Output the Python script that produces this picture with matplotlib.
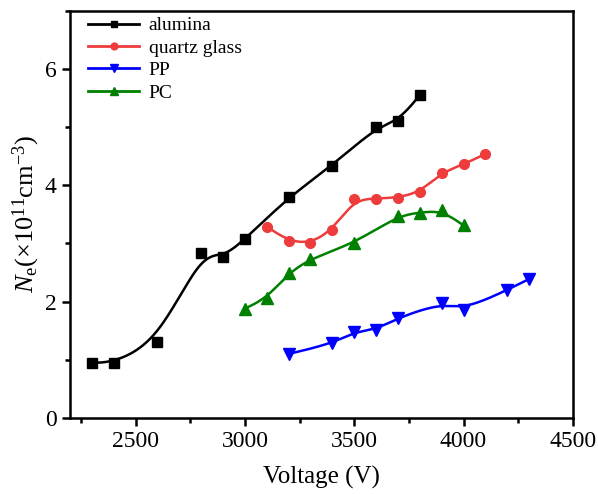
import numpy as np
import matplotlib
matplotlib.use("Agg")
import matplotlib.pyplot as plt
from matplotlib.ticker import MultipleLocator

plt.rcParams["font.family"] = ["Liberation Serif", "DejaVu Serif"]
plt.rcParams["mathtext.fontset"] = "custom"
plt.rcParams["mathtext.rm"] = "Liberation Serif"
plt.rcParams["mathtext.it"] = "Liberation Serif:italic"

# data
alumina_v = [2300, 2400, 2600, 2800, 2900, 3000, 3200, 3400, 3600, 3700, 3800]
alumina_ne = [0.95, 0.95, 1.31, 2.84, 2.76, 3.07, 3.80, 4.34, 5.00, 5.10, 5.55]

quartz_v = [3100, 3200, 3300, 3400, 3500, 3600, 3700, 3800, 3900, 4000, 4100]
quartz_ne = [3.29, 3.04, 3.00, 3.23, 3.76, 3.77, 3.79, 3.88, 4.22, 4.36, 4.54]

pp_v = [3200, 3400, 3500, 3600, 3700, 3900, 4000, 4200, 4300]
pp_ne = [1.10, 1.28, 1.48, 1.52, 1.72, 1.98, 1.86, 2.20, 2.39]

pc_v = [3000, 3100, 3200, 3300, 3500, 3700, 3800, 3900, 4000]
pc_ne = [1.88, 2.06, 2.49, 2.74, 3.00, 3.48, 3.53, 3.57, 3.31]


def bspline(x, y, n=40):
    """Uniform cubic B-spline with the points as control points (clamped ends)."""
    px = np.r_[[x[0]] * 2, x, [x[-1]] * 2].astype(float)
    py = np.r_[[y[0]] * 2, y, [y[-1]] * 2].astype(float)
    t = np.linspace(0, 1, n)
    b0 = (1 - t) ** 3 / 6
    b1 = (3 * t**3 - 6 * t**2 + 4) / 6
    b2 = (-3 * t**3 + 3 * t**2 + 3 * t + 1) / 6
    b3 = t**3 / 6
    xs, ys = [], []
    for j in range(len(px) - 3):
        xs.append(b0 * px[j] + b1 * px[j + 1] + b2 * px[j + 2] + b3 * px[j + 3])
        ys.append(b0 * py[j] + b1 * py[j + 1] + b2 * py[j + 2] + b3 * py[j + 3])
    return np.concatenate(xs), np.concatenate(ys)


fig = plt.figure(figsize=(5.98, 4.94), dpi=100)
ax = fig.add_axes([0.117, 0.154, 0.841, 0.824])

series = [
    (alumina_v, alumina_ne, "black", "s", "alumina", 6.5),
    (quartz_v, quartz_ne, "#ee3b3b", "o", "quartz glass", 7),
    (pp_v, pp_ne, "blue", "v", "PP", 8),
    (pc_v, pc_ne, "green", "^", "PC", 8),
]
for v, ne, c, mk, lab, ms in series:
    xs, ys = bspline(v, ne)
    ax.plot(xs, ys, color=c, lw=1.8)
    ax.plot(v, ne, ls="none", marker=mk, color=c, ms=ms)
    ax.plot([], [], color=c, marker=mk, ms=ms * 0.7, lw=2, label=lab)

ax.set_xlim(2200, 4500)
ax.set_ylim(0, 7)
ax.xaxis.set_major_locator(MultipleLocator(500))
ax.xaxis.set_minor_locator(MultipleLocator(250))
ax.yaxis.set_major_locator(MultipleLocator(2))
ax.yaxis.set_minor_locator(MultipleLocator(1))
ax.tick_params(which="both", direction="out", labelsize=17, width=1.8)
ax.tick_params(which="major", length=6)
ax.tick_params(which="minor", length=3.5)
for s in ax.spines.values():
    s.set_linewidth(1.8)

ax.set_xlabel("Voltage (V)", fontsize=18, labelpad=10)
ax.set_ylabel(r"$\mathit{N}_\mathrm{e}$(×10$^{11}$cm$^{-3}$)", fontsize=19, labelpad=2)

ax.legend(loc="upper left", bbox_to_anchor=(0.025, 1.0), frameon=False,
          fontsize=14, handlelength=2.6, borderaxespad=0.0, borderpad=0.3,
          labelspacing=0.25, handletextpad=0.5)

fig.savefig("out.png", dpi=100)
